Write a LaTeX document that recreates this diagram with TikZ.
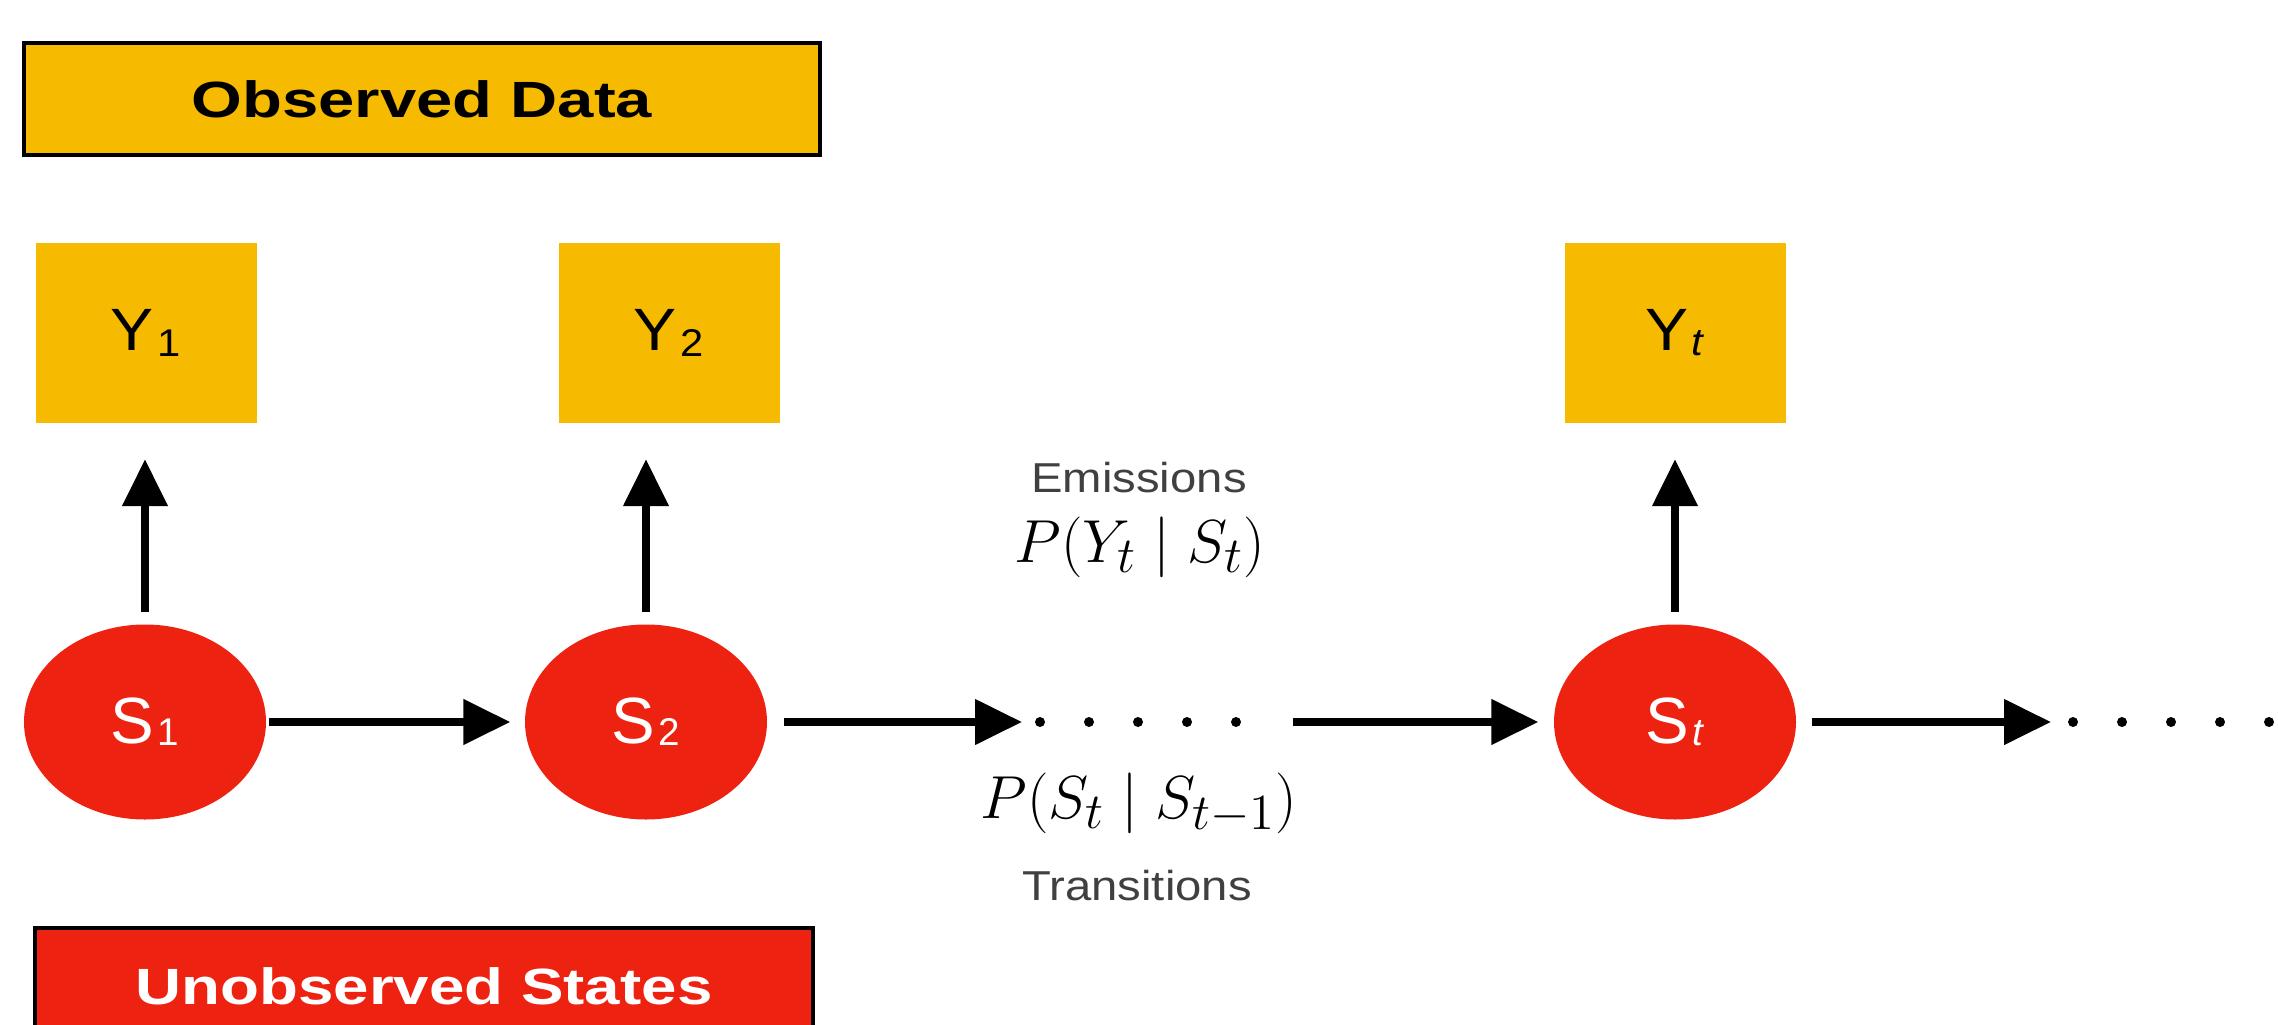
\documentclass[tikz,border=0pt]{standalone}
\usepackage{fontspec}
\setsansfont{Liberation Sans}
\usetikzlibrary{arrows.meta,shapes.geometric}
\definecolor{obsgold}{RGB}{246,187,0}
\definecolor{hidred}{RGB}{238,34,17}
\newcommand{\wide}[2]{\scalebox{#1}[1]{#2}}
\newcommand{\ylbl}[1]{\wide{1.08}{Y\kern1pt\raisebox{-1.5pt}{\fontsize{11}{12}\selectfont #1}}}
\newcommand{\slbl}[1]{S\kern1pt\raisebox{-0.5pt}{\fontsize{11}{12}\selectfont #1}}

\begin{document}
\begin{tikzpicture}[
    keybox/.style={line width=1.4pt, draw=black, inner sep=0pt,
      font=\fontsize{14.5}{16}\sffamily\bfseries},
    ybox/.style={fill=obsgold, minimum width=2.21cm, minimum height=1.79cm,
      inner sep=0pt, font=\fontsize{17}{19}\sffamily},
    state/.style={ellipse, fill=hidred, text=white, minimum width=2.42cm,
      minimum height=1.95cm, inner sep=0pt, font=\fontsize{18.6}{20}\sffamily},
    caption/.style={text=black!75, font=\fontsize{11.9}{14}\sffamily},
    prob/.style={anchor=base, font=\fontsize{19}{21}\selectfont},
    link/.style={line width=2.2pt, -{Triangle[length=0.47cm,width=0.44cm]}},
    emit/.style={link, shorten <=0.12cm, shorten >=0.36cm},
    dotrow/.style={line width=0.1cm, line cap=round, dash pattern=on 0pt off 0.49cm}
  ]
  \useasboundingbox (0,0) rectangle (22.78,10.24);

  \node[keybox, fill=obsgold, minimum width=7.96cm, minimum height=1.12cm]
    (obs) at (4.22,9.25) {\wide{1.28}{Observed Data}};
  \node[keybox, fill=hidred, text=white, minimum width=7.78cm, minimum height=1.16cm]
    (hid) at (4.24,0.38) {\wide{1.25}{Unobserved States}};

  \node[ybox] (Y1) at (1.46,6.91) {\ylbl{1}};
  \node[ybox] (Y2) at (6.69,6.91) {\ylbl{2}};
  \node[ybox] (Yt) at (16.75,6.91) {\ylbl{\textit{t}}};

  \node[state] (S1) at (1.45,3.02) {\slbl{1}};
  \node[state] (S2) at (6.46,3.02) {\slbl{2}};
  \node[state] (St) at (16.75,3.02) {\slbl{\textit{t}}};

  \coordinate (g1) at (10.22,3.02);
  \coordinate (g2) at (12.93,3.02);
  \coordinate (g3) at (20.51,3.02);

  \draw[emit] (S1.north) -- (S1.north |- Y1.south);
  \draw[emit] (S2.north) -- (S2.north |- Y2.south);
  \draw[emit] (St.north) -- (St.north |- Yt.south);

  \draw[link, shorten <=0.02cm, shorten >=0.14cm] (S1) -- (S2);
  \draw[link, shorten <=0.16cm] (S2) -- (g1);
  \draw[link, shorten >=0.15cm] (g2) -- (St);
  \draw[link, shorten <=0.15cm] (St) -- (g3);
  \draw[dotrow] ([xshift=0.18cm]g1) -- ([xshift=-0.52cm]g2);
  \draw[dotrow] ([xshift=0.22cm]g3) -- ++(2.0,0);

  \node[caption] (emis) at (11.39,5.46) {\wide{1.13}{Emissions}};
  \node[prob] (pemit) at (11.40,4.62) {$P(Y_t\;|\;S_t)$};
  \node[prob] (ptrans) at (11.39,2.06) {$P(S_t\;|\;S_{t-1})$};
  \node[caption] (trans) at (11.37,1.38) {\wide{1.13}{Transitions}};
\end{tikzpicture}
\end{document}
